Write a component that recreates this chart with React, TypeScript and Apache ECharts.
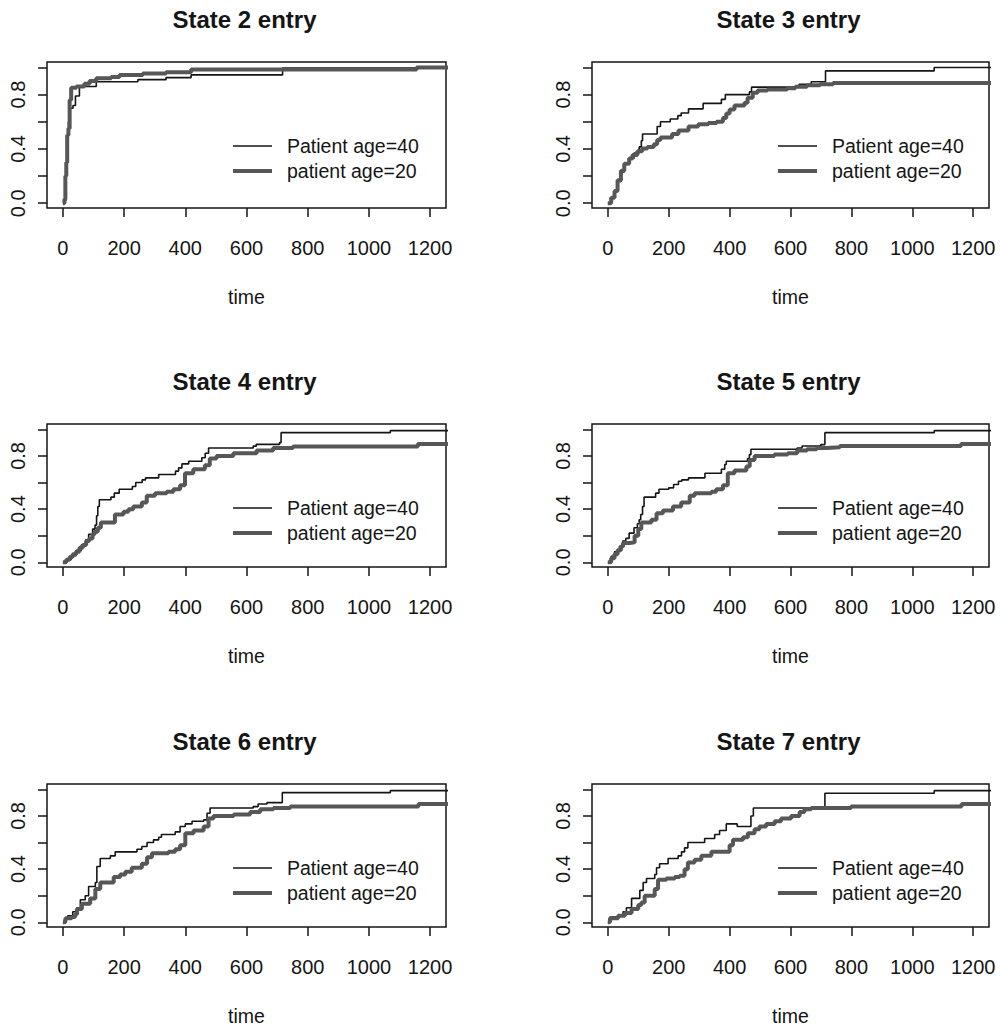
import React, { useEffect, useRef } from "react";
import * as echarts from "echarts";

type Pt = [number, number];

// ---- data -------------------------------------------------------------
const panelTitles = [
  "State 2 entry",
  "State 3 entry",
  "State 4 entry",
  "State 5 entry",
  "State 6 entry",
  "State 7 entry",
];
const groupNames = ["Patient age=40", "patient age=20"];
const timeTicks = [0, 200, 400, 600, 800, 1000, 1200];
const probTicks = [0, 0.2, 0.4, 0.6, 0.8, 1.0];
const probLabels = [0, 0.4, 0.8];
const axisTitle = "time";

// step curves: [time of jump, value after jump]
const state2Age40: Pt[] = [
  [0, 0], [6, 0.02], [10, 0.25], [14, 0.5], [18, 0.6], [22, 0.7], [33, 0.72],
  [41, 0.79], [54, 0.86], [109, 0.895], [245, 0.91], [337, 0.925], [419, 0.945],
  [718, 0.995], [1260, 0.995],
];
const state2Age20: Pt[] = [
  [0, 0], [5, 0.03], [8, 0.2], [11, 0.3], [14, 0.5], [18, 0.55], [22, 0.76],
  [27, 0.85], [44, 0.86], [70, 0.88], [87, 0.9], [109, 0.92], [158, 0.93],
  [185, 0.945], [261, 0.955], [337, 0.965], [419, 0.985], [1156, 1.0], [1260, 1.0],
];
const state3Age40: Pt[] = [
  [0, 0], [11, 0.04], [22, 0.09], [32, 0.16], [43, 0.23], [54, 0.29], [70, 0.33],
  [86, 0.37], [103, 0.415], [110, 0.46], [114, 0.51], [162, 0.565], [173, 0.6],
  [205, 0.62], [230, 0.645], [241, 0.665], [265, 0.695], [313, 0.735], [373, 0.765],
  [386, 0.8], [465, 0.82], [472, 0.855], [628, 0.875], [668, 0.895], [715, 0.975],
  [1072, 1.0], [1260, 1.0],
];
const state3Age20: Pt[] = [
  [0, 0], [11, 0.04], [22, 0.09], [32, 0.17], [43, 0.24], [54, 0.29], [70, 0.33],
  [81, 0.355], [97, 0.383], [113, 0.403], [130, 0.415], [151, 0.435], [162, 0.465],
  [173, 0.485], [211, 0.51], [232, 0.535], [265, 0.565], [297, 0.582], [330, 0.59],
  [357, 0.6], [378, 0.627], [389, 0.66], [400, 0.69], [416, 0.72], [449, 0.74],
  [459, 0.776], [476, 0.813], [492, 0.83], [524, 0.838], [589, 0.846], [616, 0.858],
  [654, 0.868], [697, 0.876], [740, 0.885], [1260, 0.885],
];
const state4Age40: Pt[] = [
  [0, 0], [11, 0.02], [27, 0.05], [43, 0.09], [60, 0.13], [75, 0.17], [84, 0.21],
  [97, 0.25], [105, 0.28], [110, 0.35], [114, 0.42], [119, 0.47], [157, 0.49],
  [168, 0.52], [184, 0.55], [227, 0.57], [238, 0.6], [259, 0.62], [270, 0.635],
  [313, 0.66], [368, 0.686], [378, 0.71], [389, 0.74], [411, 0.76], [454, 0.786],
  [465, 0.82], [476, 0.86], [622, 0.874], [632, 0.887], [708, 0.9], [713, 0.975],
  [1070, 0.99], [1260, 0.99],
];
const state4Age20: Pt[] = [
  [0, 0], [11, 0.02], [22, 0.04], [32, 0.06], [43, 0.08], [54, 0.11], [65, 0.13],
  [76, 0.16], [86, 0.18], [97, 0.21], [103, 0.23], [114, 0.26], [124, 0.3],
  [170, 0.36], [198, 0.38], [214, 0.4], [230, 0.42], [258, 0.45], [274, 0.5],
  [301, 0.52], [339, 0.53], [361, 0.55], [383, 0.58], [399, 0.67], [426, 0.7],
  [464, 0.73], [480, 0.78], [502, 0.8], [557, 0.82], [633, 0.84], [687, 0.86],
  [752, 0.87], [1160, 0.89], [1260, 0.89],
];
const state5Age40: Pt[] = [
  [0, 0], [11, 0.045], [22, 0.08], [38, 0.12], [49, 0.16], [59, 0.18], [70, 0.22],
  [86, 0.26], [97, 0.29], [103, 0.32], [108, 0.36], [114, 0.42], [119, 0.49],
  [157, 0.52], [168, 0.55], [200, 0.56], [216, 0.585], [232, 0.61], [243, 0.62],
  [265, 0.635], [319, 0.67], [373, 0.7], [384, 0.735], [389, 0.76], [459, 0.78],
  [465, 0.81], [470, 0.85], [622, 0.86], [638, 0.875], [700, 0.885], [713, 0.975],
  [1072, 0.99], [1260, 0.99],
];
const state5Age20: Pt[] = [
  [0, 0], [11, 0.03], [22, 0.06], [32, 0.09], [43, 0.12], [50, 0.145], [72, 0.15],
  [88, 0.2], [100, 0.25], [110, 0.3], [143, 0.32], [160, 0.37], [181, 0.39],
  [214, 0.42], [241, 0.45], [269, 0.5], [285, 0.52], [340, 0.53], [356, 0.55],
  [378, 0.58], [394, 0.67], [416, 0.69], [455, 0.72], [466, 0.77], [482, 0.8],
  [547, 0.81], [591, 0.82], [622, 0.84], [654, 0.85], [686, 0.86], [719, 0.865],
  [762, 0.875], [1160, 0.89], [1260, 0.89],
];
const state6Age40: Pt[] = [
  [0, 0], [8, 0.03], [16, 0.05], [32, 0.08], [45, 0.11], [57, 0.17], [73, 0.2],
  [84, 0.27], [106, 0.3], [111, 0.42], [122, 0.48], [155, 0.5], [171, 0.53],
  [242, 0.55], [258, 0.57], [275, 0.6], [296, 0.62], [313, 0.64], [322, 0.66],
  [367, 0.68], [383, 0.72], [400, 0.74], [422, 0.76], [460, 0.77], [471, 0.82],
  [481, 0.86], [622, 0.87], [638, 0.89], [667, 0.9], [717, 0.975], [1070, 0.99],
  [1260, 0.99],
];
const state6Age20: Pt[] = [
  [0, 0], [8, 0.03], [29, 0.04], [40, 0.06], [46, 0.1], [62, 0.14], [89, 0.18],
  [106, 0.25], [122, 0.3], [166, 0.34], [187, 0.36], [204, 0.38], [225, 0.41],
  [258, 0.44], [275, 0.49], [291, 0.52], [345, 0.53], [367, 0.55], [383, 0.58],
  [400, 0.67], [427, 0.69], [460, 0.72], [476, 0.78], [492, 0.8], [558, 0.81],
  [612, 0.83], [645, 0.85], [688, 0.86], [743, 0.87], [1162, 0.89], [1260, 0.89],
];
const state7Age40: Pt[] = [
  [0, 0], [7, 0.04], [34, 0.05], [50, 0.08], [61, 0.11], [78, 0.18], [105, 0.24],
  [116, 0.3], [127, 0.33], [154, 0.36], [160, 0.41], [170, 0.44], [198, 0.48],
  [231, 0.5], [242, 0.53], [252, 0.56], [263, 0.6], [318, 0.63], [351, 0.66],
  [367, 0.69], [389, 0.74], [425, 0.72], [470, 0.8], [478, 0.86], [713, 0.97],
  [1072, 0.99], [1260, 0.99],
];
const state7Age20: Pt[] = [
  [0, 0], [7, 0.03], [34, 0.05], [56, 0.07], [78, 0.1], [100, 0.13], [110, 0.15],
  [121, 0.2], [154, 0.25], [165, 0.32], [192, 0.33], [220, 0.34], [236, 0.35],
  [252, 0.4], [263, 0.45], [285, 0.47], [307, 0.5], [340, 0.53], [400, 0.58],
  [411, 0.62], [444, 0.64], [460, 0.67], [482, 0.7], [498, 0.72], [520, 0.74],
  [548, 0.76], [569, 0.78], [602, 0.8], [630, 0.83], [646, 0.85], [668, 0.86],
  [799, 0.87], [1162, 0.89], [1260, 0.89],
];

const age40Curves = [state2Age40, state3Age40, state4Age40, state5Age40, state6Age40, state7Age40];
const age20Curves = [state2Age20, state3Age20, state4Age20, state5Age20, state6Age20, state7Age20];

// ---- layout -----------------------------------------------------------
const colLeft = [47, 592];
const colWidth = [399, 397];
const rowTop = [62, 424, 784];
const rowHeight = [146, 143, 143];
const X_MIN = -52;
const X_MAX = 1252;
const Y_MIN = -0.035;
const Y_MAX = 1.04;

const FONT = "'Liberation Sans', Arial, Helvetica, sans-serif";
const INK = "#151515";
const DARK = "#151515";
const GREY = "#575757";

function buildOption(): echarts.EChartsCoreOption {
  const grids: any[] = [];
  const xAxes: any[] = [];
  const yAxes: any[] = [];
  const series: any[] = [];
  const titles: any[] = [];
  const graphics: any[] = [];

  panelTitles.forEach((title, i) => {
    const col = i % 2;
    const row = Math.floor(i / 2);
    const L = colLeft[col];
    const W = colWidth[col];
    const T = rowTop[row];
    const H = rowHeight[row];

    grids.push({
      left: L,
      top: T,
      width: W,
      height: H,
      show: true,
      borderColor: INK,
      borderWidth: 1.5,
      backgroundColor: "transparent",
      containLabel: false,
    });

    xAxes.push({
      type: "value",
      gridIndex: i,
      min: X_MIN,
      max: X_MAX,
      axisLine: { show: false, onZero: false },
      axisTick: {
        show: true,
        inside: false,
        length: 9,
        customValues: timeTicks,
        lineStyle: { color: INK, width: 1.5 },
      },
      axisLabel: {
        show: true,
        customValues: timeTicks,
        margin: 30,
        fontSize: 20,
        fontFamily: FONT,
        color: INK,
        formatter: (v: number) => String(v),
      },
      splitLine: { show: false },
      name: axisTitle,
      nameLocation: "middle",
      nameGap: 79,
      nameTextStyle: { fontSize: 19.5, fontFamily: FONT, color: INK },
    });

    yAxes.push({
      type: "value",
      gridIndex: i,
      min: Y_MIN,
      max: Y_MAX,
      axisLine: { show: false, onZero: false },
      axisTick: {
        show: true,
        inside: false,
        length: 9,
        customValues: probTicks,
        lineStyle: { color: INK, width: 1.5 },
      },
      axisLabel: {
        show: true,
        customValues: probLabels,
        rotate: 90,
        margin: 19,
        fontSize: 20,
        fontFamily: FONT,
        color: INK,
        formatter: (v: number) => v.toFixed(1),
      },
      splitLine: { show: false },
    });

    series.push({
      name: groupNames[0],
      type: "line",
      xAxisIndex: i,
      yAxisIndex: i,
      step: "end",
      symbol: "none",
      showSymbol: false,
      clip: true,
      z: 2,
      lineStyle: { color: DARK, width: 1.6 },
      data: age40Curves[i],
    });
    series.push({
      name: groupNames[1],
      type: "line",
      xAxisIndex: i,
      yAxisIndex: i,
      step: "end",
      symbol: "none",
      showSymbol: false,
      clip: true,
      z: 3,
      lineStyle: { color: GREY, width: 4 },
      data: age20Curves[i],
    });

    titles.push({
      text: title,
      left: L + W / 2 - 2,
      top: T - 55,
      textAlign: "center",
      padding: 0,
      textStyle: { fontSize: 24, fontWeight: "bold", fontFamily: FONT, color: INK },
    });

    // in-plot key: sample line followed by its label
    const keyRows = [
      { name: groupNames[0], color: DARK, width: 1.6, dy: 84 },
      { name: groupNames[1], color: GREY, width: 4, dy: 109 },
    ];
    keyRows.forEach((k) => {
      graphics.push({
        type: "line",
        shape: { x1: L + 186, y1: T + k.dy, x2: L + 225, y2: T + k.dy },
        style: { stroke: k.color, lineWidth: k.width },
        z: 10,
      });
      graphics.push({
        type: "text",
        x: L + 240,
        y: T + k.dy,
        style: {
          text: k.name,
          fontSize: 19.5,
          fontFamily: FONT,
          fill: INK,
          verticalAlign: "middle",
          align: "left",
        },
        z: 10,
      });
    });
  });

  return {
    animation: false,
    backgroundColor: "#ffffff",
    title: titles,
    grid: grids,
    xAxis: xAxes,
    yAxis: yAxes,
    series,
    graphic: graphics,
  };
}

export default function App() {
  const ref = useRef<HTMLDivElement>(null);

  useEffect(() => {
    document.body.style.margin = "0";
    if (!ref.current) return;
    const chart = echarts.init(ref.current, undefined, { renderer: "svg" });
    chart.setOption(buildOption());
    return () => chart.dispose();
  }, []);

  return <div ref={ref} style={{ width: 1001, height: 1029 }} />;
}
